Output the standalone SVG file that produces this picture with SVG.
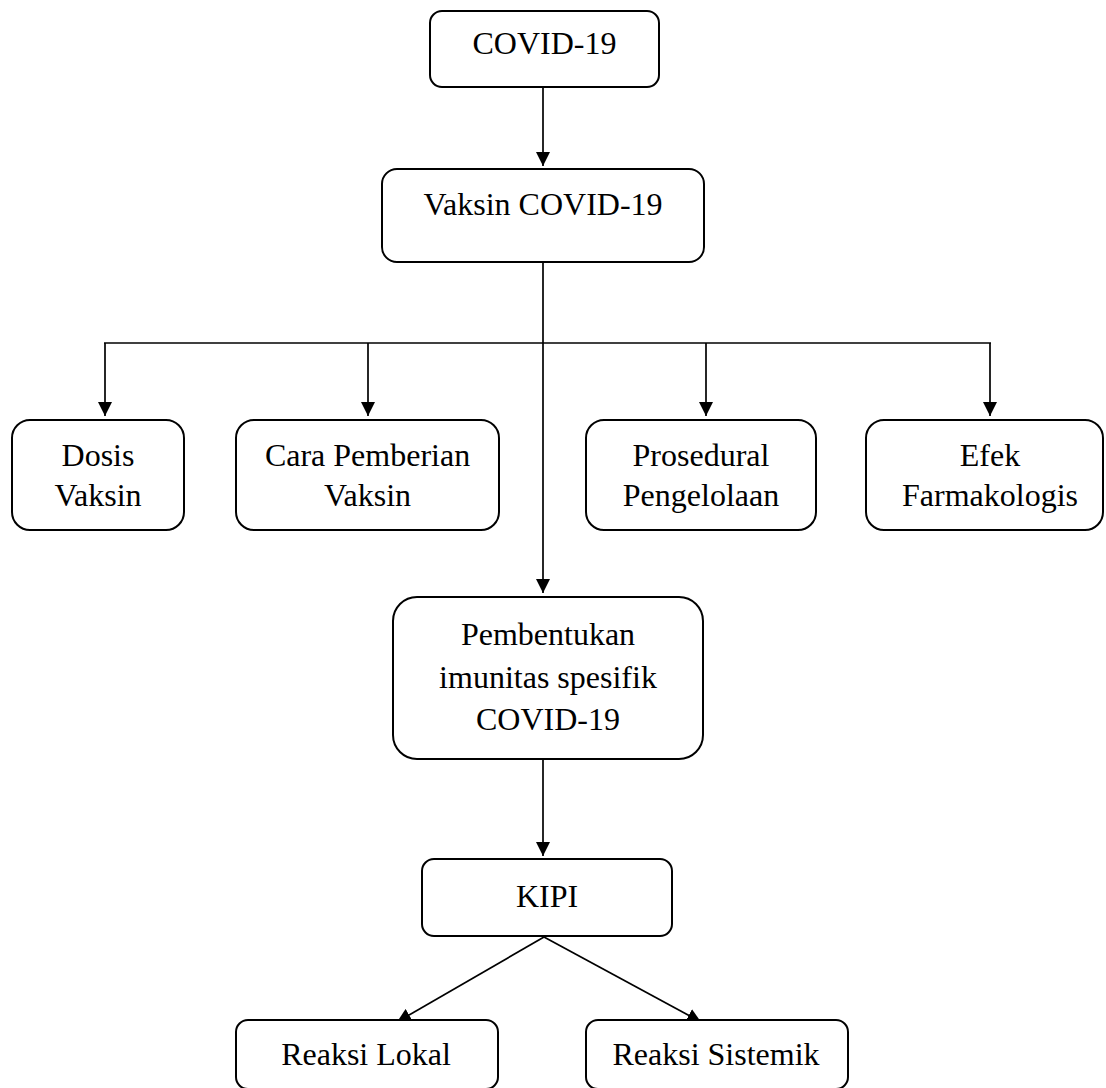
<svg xmlns="http://www.w3.org/2000/svg" width="1106" height="1088" viewBox="0 0 1106 1088">
<style>
.box{fill:#fff;stroke:#000;stroke-width:2}
.ln{fill:none;stroke:#000;stroke-width:1.7}
text{font-family:"Liberation Serif","Times New Roman",serif;font-size:32px;fill:#000;text-anchor:middle}
</style>
<defs>
<marker id="ah" markerUnits="userSpaceOnUse" markerWidth="14" markerHeight="14" viewBox="0 0 14 14" refX="14" refY="7" orient="auto">
<path d="M0,0 L14,7 L0,14 Z" fill="#000"/>
</marker>
</defs>
<rect width="1106" height="1088" fill="#fff"/>
<g id="connectors">
<line class="ln" x1="543" y1="87" x2="543" y2="166" marker-end="url(#ah)"/>
<line class="ln" x1="543" y1="262" x2="543" y2="593" marker-end="url(#ah)"/>
<line class="ln" x1="104" y1="343" x2="991" y2="343"/>
<line class="ln" x1="105" y1="343" x2="105" y2="416" marker-end="url(#ah)"/>
<line class="ln" x1="368" y1="343" x2="368" y2="416" marker-end="url(#ah)"/>
<line class="ln" x1="706" y1="343" x2="706" y2="416" marker-end="url(#ah)"/>
<line class="ln" x1="990" y1="343" x2="990" y2="416" marker-end="url(#ah)"/>
<line class="ln" x1="543" y1="759" x2="543" y2="856" marker-end="url(#ah)"/>
<line class="ln" x1="544" y1="937" x2="397" y2="1022" marker-end="url(#ah)"/>
<line class="ln" x1="544" y1="937" x2="701" y2="1022" marker-end="url(#ah)"/>
</g>
<g id="n-covid"><rect class="box" x="430" y="11" width="229" height="76" rx="12"/><text x="544.5" y="54">COVID-19</text></g>
<g id="n-vaksin"><rect class="box" x="382" y="169" width="322" height="93" rx="15"/><text x="543" y="215">Vaksin COVID-19</text></g>
<g id="n-dosis"><rect class="box" x="12" y="420" width="172" height="110" rx="18"/><text x="98" y="466">Dosis</text><text x="98" y="506">Vaksin</text></g>
<g id="n-cara"><rect class="box" x="236" y="420" width="263" height="110" rx="18"/><text x="367.5" y="466">Cara Pemberian</text><text x="367.5" y="506">Vaksin</text></g>
<g id="n-prosedural"><rect class="box" x="586" y="420" width="230" height="110" rx="18"/><text x="701" y="466">Prosedural</text><text x="701" y="506">Pengelolaan</text></g>
<g id="n-efek"><rect class="box" x="866" y="420" width="237" height="110" rx="18"/><text x="990" y="466">Efek</text><text x="990" y="506">Farmakologis</text></g>
<g id="n-pembentukan"><rect class="box" x="393" y="597" width="310" height="162" rx="24"/><text x="548" y="645">Pembentukan</text><text x="548" y="688">imunitas spesifik</text><text x="548" y="730">COVID-19</text></g>
<g id="n-kipi"><rect class="box" x="422" y="859" width="250" height="77" rx="12"/><text x="547" y="907">KIPI</text></g>
<g id="n-lokal"><rect class="box" x="236" y="1020" width="262" height="69" rx="12"/><text x="366" y="1065">Reaksi Lokal</text></g>
<g id="n-sistemik"><rect class="box" x="586" y="1020" width="262" height="69" rx="12"/><text x="716" y="1065">Reaksi Sistemik</text></g>
</svg>
